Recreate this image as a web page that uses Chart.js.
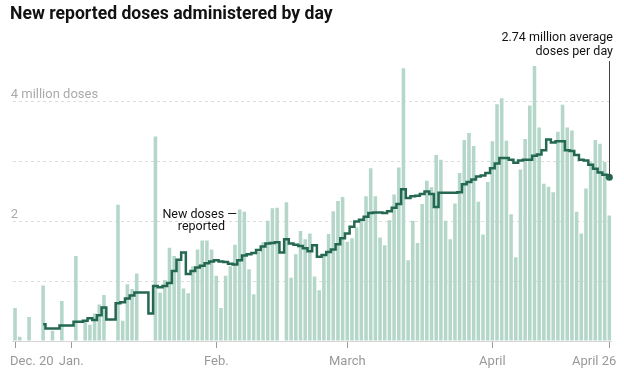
<!DOCTYPE html>
<html>
<head>
<meta charset="utf-8">
<script src="https://cdn.jsdelivr.net/npm/chart.js@4.4.1/dist/chart.umd.min.js"></script>
<style>
  html, body { margin: 0; padding: 0; background: #fff; }
  #wrap { position: relative; width: 624px; height: 374px; font-family: Roboto, "Liberation Sans", sans-serif; }
  #title { position: absolute; left: 10px; top: 3px; font-size: 17.6px; font-weight: 700; color: #121212; white-space: nowrap; }
  .note { position: absolute; font-size: 12.5px; line-height: 14px; color: #121212; white-space: nowrap; text-align: right; }
  canvas { position: absolute; left: 0; top: 0; }
</style>
</head>
<body>
<div id="wrap">
  <canvas id="doses-chart" width="624" height="374"></canvas>
  <div id="title">New reported doses administered by day</div>
  <div class="note" style="right: 11px; top: 30px;">2.74 million average<br>doses per day</div>
  <div class="note" style="right: 387px; top: 207px;">New doses —</div>
  <div class="note" style="right: 399px; top: 219px;">reported</div>
</div>
<script>
document.addEventListener("DOMContentLoaded", function() {
  // one entry per day, Dec. 20 to April 26
  const startDate = new Date(2020, 11, 20);
  const dayCount = 128;

  const tickLabels = { 0: "Dec. 20", 12: "Jan.", 43: "Feb.", 71: "March", 102: "April", 127: "April 26" };
  const yTickLabels = { 2: "2", 4: "4 million doses" };

  // new reported doses, millions (null = nothing reported)
  const dailyDoses = [
    0.55, 0.07, null, 0.40, null, null, 0.93, null, 0.17, null,
    0.67, null, null, 1.42, null, 0.34, 0.27, 0.46, 0.61, 0.77,
    null, null, 2.28, 0.34, 0.95, 0.87, 1.13, null, null, null,
    3.42, 0.81, 1.02, 1.56, 1.42, 1.36, 0.88, 0.80, 1.25, 1.53,
    1.68, 1.68, 1.53, 1.09, 0.55, 1.09, 1.25, 1.61, 2.20, 2.16,
    1.20, 0.78, 1.49, 1.65, 2.01, 2.22, 2.23, null, 2.32, 1.06,
    1.45, 1.84, 1.70, 1.80, 1.08, 0.85, 1.44, 1.79, 2.17, 2.34,
    2.41, 1.66, 1.72, 1.90, 2.04, 2.42, 2.89, 2.42, 1.73, 1.60,
    2.02, 2.45, 2.90, 4.56, 1.35, 2.01, 1.64, 2.29, 2.68, 2.57,
    3.11, 3.03, 2.01, 1.70, 2.30, 2.81, 3.36, 3.48, 3.26, 2.33,
    1.78, 2.66, 3.34, 3.96, 4.06, 3.35, 2.12, 1.40, 2.87, 3.38,
    3.94, 4.60, 3.57, 2.63, 2.58, 2.49, 3.50, 3.95, 3.57, 3.52,
    2.16, 1.80, 2.55, 2.99, 3.36, 3.30, 3.00, 2.10
  ];

  // seven-day average, millions
  const weeklyAverage = [
    null, null, null, null, null, null, 0.28, 0.21, 0.21, 0.21,
    0.26, 0.26, 0.26, 0.32, 0.32, 0.34, 0.38, 0.35, 0.43, 0.56,
    0.36, 0.36, 0.63, 0.65, 0.71, 0.76, 0.81, 0.81, 0.81, 0.46,
    0.92, 0.90, 0.92, 0.97, 1.17, 1.36, 1.48, 1.12, 1.17, 1.23,
    1.26, 1.30, 1.33, 1.35, 1.33, 1.32, 1.29, 1.28, 1.35, 1.43,
    1.45, 1.47, 1.52, 1.58, 1.63, 1.64, 1.65, 1.48, 1.70, 1.63,
    1.61, 1.59, 1.55, 1.50, 1.60, 1.41, 1.44, 1.49, 1.53, 1.62,
    1.72, 1.80, 1.91, 2.00, 2.03, 2.08, 2.14, 2.15, 2.15, 2.14,
    2.17, 2.23, 2.29, 2.54, 2.39, 2.42, 2.43, 2.46, 2.50, 2.46,
    2.24, 2.48, 2.48, 2.48, 2.48, 2.49, 2.62, 2.66, 2.70, 2.75,
    2.77, 2.81, 2.89, 2.97, 3.06, 3.06, 3.03, 2.98, 3.02, 3.03,
    3.03, 3.10, 3.12, 3.19, 3.37, 3.32, 3.34, 3.34, 3.19, 3.18,
    3.11, 3.03, 3.02, 2.95, 2.88, 2.82, 2.78, 2.74
  ];

  const days = [];
  for (let i = 0; i < dayCount; i++) {
    const d = new Date(startDate);
    d.setDate(d.getDate() + i);
    days.push(d.toISOString().slice(0, 10));
  }

  const green = "rgb(36, 104, 82)";
  const barColor = "rgb(180, 215, 201)";
  const fontFamily = "Roboto, 'Liberation Sans', sans-serif";

  // thin leader line from the last average point up to the note
  const leader = {
    id: "leader",
    afterDatasetsDraw(chart) {
      const pt = chart.getDatasetMeta(0).data[dayCount - 1];
      const ctx = chart.ctx;
      ctx.save();
      ctx.strokeStyle = "#444";
      ctx.lineWidth = 1;
      ctx.beginPath();
      ctx.moveTo(Math.round(pt.x) + 0.5, 61);
      ctx.lineTo(Math.round(pt.x) + 0.5, pt.y);
      ctx.stroke();
      ctx.restore();
    }
  };

  // date labels under the tick marks; the end ones hang a little past their tick
  const dateLabels = {
    id: "dateLabels",
    afterDraw(chart) {
      const xs = chart.scales.x;
      const ctx = chart.ctx;
      ctx.save();
      ctx.font = "13px " + fontFamily;
      ctx.fillStyle = "#999";
      ctx.textBaseline = "alphabetic";
      Object.keys(tickLabels).forEach(k => {
        const i = Number(k);
        let px = xs.getPixelForValue(i);
        ctx.textAlign = "center";
        if (i === 0) { ctx.textAlign = "left"; px -= 5; }
        if (i === dayCount - 1) { ctx.textAlign = "right"; px += 7; }
        ctx.fillText(tickLabels[k], px, xs.bottom + 17);
      });
      ctx.restore();
    }
  };

  const canvas = document.getElementById("doses-chart");
  new Chart(canvas, {
    type: "bar",
    data: {
      labels: days,
      datasets: [
        {
          type: "line",
          data: weeklyAverage,
          borderColor: green,
          borderWidth: 2.5,
          stepped: "middle",
          pointRadius: ctx => ctx.dataIndex === dayCount - 1 ? 3.5 : 0,
          pointBackgroundColor: green,
          pointBorderWidth: 0,
          order: 0
        },
        {
          data: dailyDoses,
          backgroundColor: barColor,
          categoryPercentage: 1,
          barPercentage: 0.76,
          order: 1
        }
      ]
    },
    options: {
      responsive: false,
      animation: false,
      layout: { padding: { left: 12.7, right: 12.3, top: 60, bottom: 26 } },
      plugins: { legend: { display: false }, tooltip: { enabled: false } },
      scales: {
        x: {
          offset: true,
          grid: {
            offset: false,
            drawOnChartArea: false,
            tickLength: 7,
            color: ctx => tickLabels[ctx.index] ? "#9a9a9a" : "rgba(0,0,0,0)"
          },
          border: { display: true, color: "#d6d6d6" },
          ticks: { display: false, autoSkip: false }
        },
        y: {
          min: 0,
          max: 4.7,
          afterFit: s => { s.width = 0; },
          grid: {
            drawTicks: false,
            color: ctx => ctx.tick.value === 0 ? "rgba(0,0,0,0)" : "#dcdcdc"
          },
          border: { display: false, dash: [3, 3] },
          ticks: {
            stepSize: 1,
            includeBounds: false,
            mirror: true,
            padding: -2,
            labelOffset: -7,
            color: "#aaa",
            font: { family: fontFamily, size: 13 },
            callback: v => yTickLabels[v] || ""
          }
        }
      }
    },
    plugins: [leader, dateLabels]
  });
});
</script>
</body>
</html>
